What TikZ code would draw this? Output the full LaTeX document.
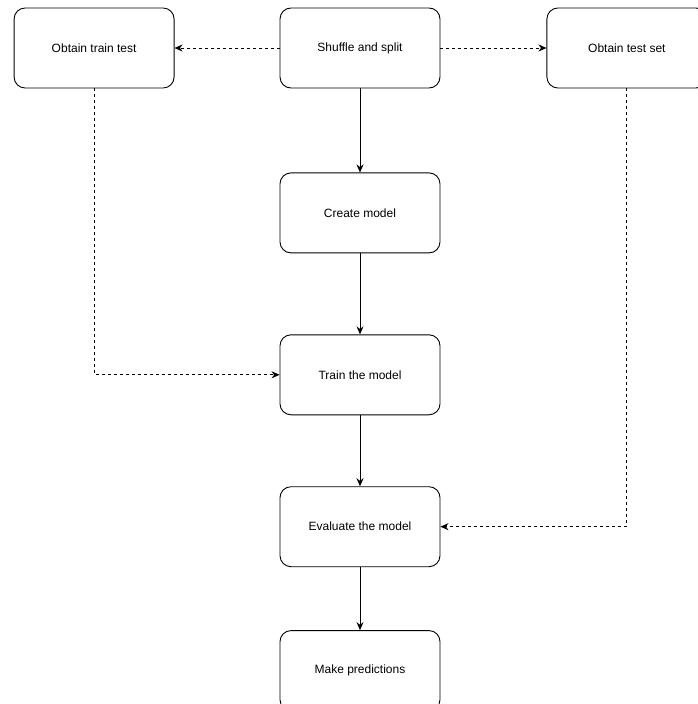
\documentclass[tikz,border=0pt]{standalone}
\usepackage{fontspec}
\setmainfont{Liberation Sans}
\usepackage{tikz}
\usetikzlibrary{positioning,arrows.meta}

\begin{document}
\begin{tikzpicture}[%
    >={Stealth[length=8pt,width=7pt]},
    line width=0.9pt,
    every node/.style={font=\fontsize{12}{14}\selectfont},
    stepbox/.style={draw, rounded corners=11pt, minimum width=160pt,
        minimum height=80pt, align=center},
    dashline/.style={dash pattern=on 3pt off 3pt}
]

\useasboundingbox (0pt,0pt) rectangle (697pt,-704pt);

% top row
\node[stepbox] (shuffle) at (360pt,-48pt) {Shuffle and split};
\node[stepbox, left=105pt of shuffle] (trainset) {Obtain train test};
\node[stepbox, right=106pt of shuffle] (testset) {Obtain test set};

% main column
\node[stepbox, below=84pt of shuffle] (create) {Create model};
\node[stepbox, below=81pt of create] (train) {Train the model};
\node[stepbox, below=71pt of train] (evaluate) {Evaluate the model};
\node[stepbox, below=63pt of evaluate] (predict) {Make predictions};

% dashed splits
\draw[->, dashline] (shuffle) -- (trainset);
\draw[->, dashline] (shuffle) -- (testset);
\draw[->, dashline] (trainset) |- (train);
\draw[->, dashline] (testset) |- (evaluate);

% solid flow
\draw[->] (shuffle) -- (create);
\draw[->] (create) -- (train);
\draw[->] (train) -- (evaluate);
\draw[->] (evaluate) -- (predict);

\end{tikzpicture}
\end{document}
